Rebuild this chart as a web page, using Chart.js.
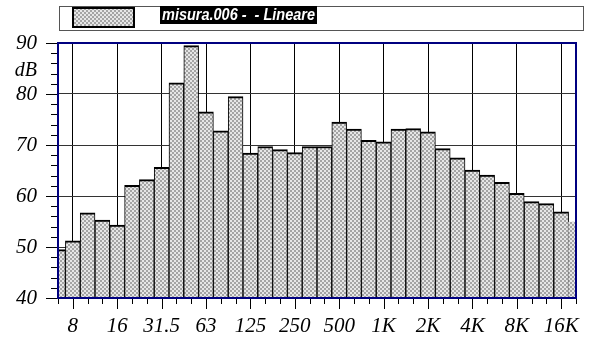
<!DOCTYPE html>
<html>
<head>
<meta charset="utf-8">
<script src="https://cdn.jsdelivr.net/npm/chart.js@4/dist/chart.umd.min.js"></script>
<style>
  html, body { margin: 0; padding: 0; background: #fff; }
  #chart { display: block; }
</style>
</head>
<body>
<canvas id="chart" width="592" height="338"></canvas>
<script>
// bande di terzo d'ottava
const bands = ['6.3', '8', '10', '12.5', '16', '20', '25', '31.5', '40', '50', '63', '80',
  '100', '125', '160', '200', '250', '315', '400', '500', '630', '800', '1K', '1.25K',
  '1.6K', '2K', '2.5K', '3.15K', '4K', '5K', '6.3K', '8K', '10K', '12.5K', '16K', '20K'];
// livelli misurati (dB)
const levels = [49.5, 51.2, 56.7, 55.3, 54.3, 62.1, 63.2, 65.6, 82.2, 89.5, 76.5, 72.8,
  79.5, 68.4, 69.7, 69.1, 68.5, 69.7, 69.7, 74.5, 73.1, 70.9, 70.6, 73.1,
  73.2, 72.6, 69.3, 67.5, 65.1, 64.1, 62.7, 60.5, 58.9, 58.5, 56.9, 54.9];
// etichette mostrate sull'asse x (ottave)
const octaveLabels = ['8', '16', '31.5', '63', '125', '250', '500', '1K', '2K', '4K', '8K', '16K'];
const yMin = 40, yMax = 90, yStep = 10, yMinorStep = 2;
const legendText = 'misura.006 -  - Lineare';
const unitLabel = 'dB';

const serif = '"Liberation Serif", "Times New Roman", serif';
const navy = '#000080';

// retino grigio delle barre
function makePattern() {
  const c = document.createElement('canvas');
  c.width = 4; c.height = 4;
  const g = c.getContext('2d');
  g.fillStyle = '#e6e6e6';
  g.fillRect(0, 0, 4, 4);
  g.fillStyle = '#a4a4a4';
  g.fillRect(0, 0, 2, 2);
  g.fillRect(2, 2, 2, 2);
  return g.createPattern(c, 'repeat');
}
const pattern = makePattern();

const decor = {
  id: 'decor',
  beforeDraw(chart) {
    const ctx = chart.ctx;
    ctx.save();
    ctx.fillStyle = '#fff';
    ctx.fillRect(0, 0, chart.width, chart.height);
    ctx.restore();
  },
  afterDraw(chart) {
    const ctx = chart.ctx;
    const a = chart.chartArea;
    const x = chart.scales.x, y = chart.scales.y;
    ctx.save();

    // tacche asse y
    ctx.strokeStyle = '#000';
    ctx.lineWidth = 1;
    for (let v = yMin; v <= yMax; v += yMinorStep) {
      const py = Math.round(y.getPixelForValue(v)) + 0.5;
      const major = (v - yMin) % yStep === 0;
      ctx.beginPath();
      ctx.moveTo(a.left - (major ? 12 : 7), py);
      ctx.lineTo(a.left, py);
      ctx.stroke();
    }

    // tacche asse x
    bands.forEach((b, i) => {
      const px = Math.round(x.getPixelForValue(i)) + 0.5;
      const major = octaveLabels.includes(b);
      ctx.beginPath();
      ctx.moveTo(px, a.bottom);
      ctx.lineTo(px, a.bottom + (major ? 11 : 6));
      ctx.stroke();
    });

    // cornice
    ctx.strokeStyle = navy;
    ctx.lineWidth = 2;
    ctx.strokeRect(a.left, a.top, a.right - a.left, a.bottom - a.top);

    // unità di misura
    ctx.fillStyle = '#000';
    ctx.font = 'italic 20px ' + serif;
    ctx.textAlign = 'right';
    ctx.textBaseline = 'middle';
    ctx.fillText(unitLabel, 37, 71);

    // legenda
    ctx.strokeStyle = '#555';
    ctx.lineWidth = 1;
    ctx.strokeRect(59.5, 6.5, 524, 24);
    ctx.fillStyle = pattern;
    ctx.fillRect(73, 8, 61, 19);
    ctx.strokeStyle = '#000';
    ctx.lineWidth = 2;
    ctx.strokeRect(73, 8, 61, 19);
    ctx.font = 'italic bold 16px "Liberation Sans", Arial, sans-serif';
    ctx.textAlign = 'left';
    const w = ctx.measureText(legendText).width;
    const target = 153;
    ctx.fillStyle = '#000';
    ctx.fillRect(160, 6, target + 4, 18);
    ctx.fillStyle = '#fff';
    ctx.translate(162, 15.5);
    ctx.scale(target / w, 1);
    ctx.fillText(legendText, 0, 0);
    ctx.restore();
  }
};

new Chart(document.getElementById('chart'), {
  type: 'bar',
  data: {
    labels: bands,
    datasets: [{
      data: levels,
      backgroundColor: pattern,
      borderColor: '#000',
      borderWidth: ctx => ctx.dataIndex === bands.length - 1 ? 0 : { top: 2, left: 1, right: 1, bottom: 0 },
      borderSkipped: false,
      barPercentage: 1,
      categoryPercentage: 1,
      clip: 0
    }]
  },
  options: {
    responsive: false,
    animation: false,
    layout: { padding: { top: 43, right: 10, left: 0, bottom: 0 } },
    plugins: { legend: { display: false }, tooltip: { enabled: false } },
    scales: {
      x: {
        offset: false,
        border: { display: false },
        grid: {
          offset: false,
          drawTicks: false,
          lineWidth: 1,
          color: ctx => octaveLabels.includes(bands[ctx.index]) ? '#000' : 'rgba(0,0,0,0)'
        },
        ticks: {
          autoSkip: false,
          maxRotation: 0,
          padding: 16,
          color: '#000',
          font: { family: serif, style: 'italic', size: 21 },
          callback: (v, i) => octaveLabels.includes(bands[i]) ? bands[i] : ''
        },
        afterFit: s => { s.height = 40; }
      },
      y: {
        min: yMin,
        max: yMax,
        border: { display: false },
        grid: {
          drawTicks: false,
          color: ctx => (ctx.tick && ctx.tick.value > yMin && ctx.tick.value < yMax) ? '#333' : 'rgba(0,0,0,0)'
        },
        ticks: {
          stepSize: yStep,
          padding: 21,
          color: '#000',
          font: { family: serif, style: 'italic', size: 21 }
        },
        afterFit: s => { s.width = 58; }
      }
    }
  },
  plugins: [decor]
});
</script>
</body>
</html>
